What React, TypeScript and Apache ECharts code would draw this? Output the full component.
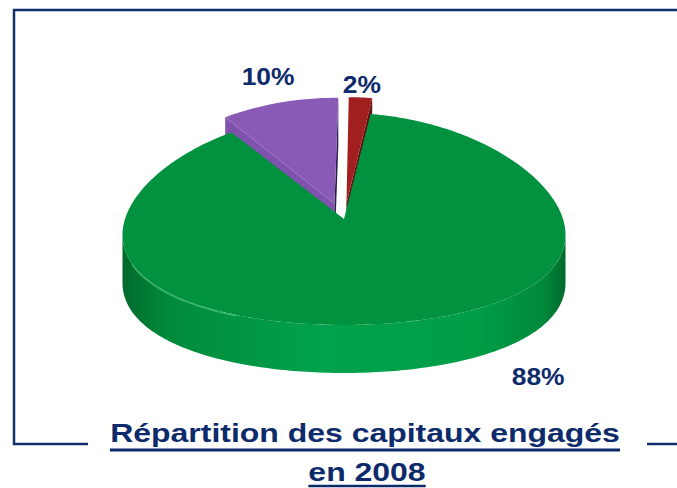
import React, { useEffect, useRef } from "react";
import * as echarts from "echarts";

// Slices listed clockwise starting just right of 12 o'clock
const sliceNames = ["Part rouge", "Part verte", "Part violette"];
const sliceValues = [2, 88, 10];
const sliceLabels = ["2%", "88%", "10%"];
const titleLines = ["Répartition des capitaux engagés", "en 2008"];

// styles
const topColors = ["#a11f1e", "#00923f", "#8a5bb6"];
const startCutColors = ["#5c1311", "#006b2c", "#7f52ad"];
const endCutColors = ["#5c1311", "#006b2c", "#2a1d4c"];
const explodes = [0.15, 0, 0.15];
const drawZ = [2, 10, 1];
const labelPlacement = [
  { angle: null as number | null, R: 1.12, z: 0 },
  { angle: 141 as number | null, R: 1.21, z: 1.2 },
  { angle: null as number | null, R: 1.26, z: 0 },
];
const START_ANGLE = 0.8;
const NAVY = "#0d2b6b";
const FONT = '"Liberation Sans", Arial, sans-serif';

const GEO = { cx: 344, cy: 219, rx: 219, ry: 106, h: 48, k: 0.15 };

function proj(u: number, v: number, z: number): number[] {
  const g = 1 / (1 + GEO.k * v);
  return [GEO.cx + GEO.rx * u * g, GEO.cy - GEO.ry * v + GEO.h * z];
}
const rad = (d: number) => (d * Math.PI) / 180;

function arc(a0: number, a1: number, ox: number, oy: number, z: number) {
  const pts: number[][] = [];
  const n = Math.max(2, Math.ceil(Math.abs(a1 - a0)));
  for (let i = 0; i <= n; i++) {
    const a = a0 + ((a1 - a0) * i) / n;
    pts.push(proj(Math.sin(rad(a)) + ox, Math.cos(rad(a)) + oy, z));
  }
  return pts;
}

function measure(text: string, font: string) {
  const c = document.createElement("canvas").getContext("2d");
  if (!c) return text.length * 15;
  c.font = font;
  return c.measureText(text).width;
}

export default function App() {
  const ref = useRef<HTMLDivElement>(null);
  useEffect(() => {
    if (!ref.current) return;
    const chart = echarts.init(ref.current, undefined, { renderer: "svg" });
    const total = sliceValues.reduce((s, v) => s + v, 0);
    const starts: number[] = [];
    let acc = START_ANGLE;
    sliceValues.forEach((v) => {
      starts.push(acc);
      acc += (v / total) * 360;
    });
    const delta = (Math.asin(GEO.k) * 180) / Math.PI;

    const renderItem = (params: any, api: any) => {
      const i = params.dataIndex;
      const val = api.value(0);
      const a0 = starts[i];
      const a1 = a0 + (val / total) * 360;
      const m = (a0 + a1) / 2;
      const e = explodes[i];
      const ox = e * Math.sin(rad(m));
      const oy = e * Math.cos(rad(m));
      const z2 = drawZ[i];
      const children: any[] = [];
      // outer side (front half)
      const ranges: number[][] = [];
      [[90 + delta, 270 - delta], [450 + delta, 630 - delta]].forEach(([s, t]) => {
        const lo = Math.max(s, a0);
        const hi = Math.min(t, a1);
        if (hi > lo) ranges.push([lo, hi]);
      });
      ranges.forEach(([lo, hi]) => {
        const top = arc(lo, hi, ox, oy, 0);
        const bot = arc(hi, lo, ox, oy, 1);
        children.push({
          type: "polygon",
          z2,
          shape: { points: top.concat(bot) },
          style: {
            fill: i === 1
              ? new echarts.graphic.LinearGradient(0, 0, 1, 0, [
                  { offset: 0, color: "#006a2b" },
                  { offset: 0.1, color: "#008a3b" },
                  { offset: 0.45, color: "#00a24b" },
                  { offset: 0.8, color: "#009d47" },
                  { offset: 0.95, color: "#00893b" },
                  { offset: 1, color: "#006a2b" },
                ])
              : endCutColors[i],
            stroke: null,
          },
        });
      });
      // cut faces
      const cut = (a: number, color: string) => {
        const c0 = proj(ox, oy, 0);
        const c1 = proj(ox, oy, 1);
        const r0 = proj(Math.sin(rad(a)) + ox, Math.cos(rad(a)) + oy, 0);
        const r1 = proj(Math.sin(rad(a)) + ox, Math.cos(rad(a)) + oy, 1);
        children.push({
          type: "polygon",
          z2,
          shape: { points: [c0, r0, r1, c1] },
          style: { fill: color, stroke: null },
        });
      };
      if (Math.sin(rad(a0)) < -0.001) cut(a0, startCutColors[i]);
      if (Math.sin(rad(a1)) > 0.001) cut(a1, endCutColors[i]);
      // top face
      const topPts = [proj(ox, oy, 0)].concat(arc(a0, a1, ox, oy, 0));
      children.push({
        type: "polygon",
        z2: z2 + 0.5,
        shape: { points: topPts },
        style: { fill: topColors[i], stroke: null },
      });
      if (i === 1) {
        children.push({
          type: "polyline",
          z2: z2 + 0.6,
          shape: { points: arc(205, 245, 0, 0, 0.02) },
          style: { stroke: "rgba(140,255,180,0.35)", lineWidth: 1.5, fill: null },
        });
      }
      // label
      const lp = labelPlacement[i];
      const la = lp.angle == null ? m : lp.angle;
      const lpt = proj(lp.R * Math.sin(rad(la)) + ox, lp.R * Math.cos(rad(la)) + oy, lp.z);
      children.push({
        type: "text",
        z2: 50,
        x: lpt[0],
        y: lpt[1],
        scaleX: 1.1,
        style: {
          text: sliceLabels[i],
          fill: NAVY,
          font: `bold 24px ${FONT}`,
          align: "center",
          verticalAlign: "middle",
          textAlign: "center",
          textVerticalAlign: "middle",
        },
      });
      return { type: "group", children };
    };

    const titleFont = `bold 26px ${FONT}`;
    const SX = 1.23;
    const t1w = measure(titleLines[0], titleFont) * SX;
    const t2w = measure(titleLines[1], titleFont) * SX;
    const t1x = 365;
    const t2x = 367;

    chart.setOption({
      animation: false,
      series: [
        {
          type: "custom",
          coordinateSystem: "none",
          renderItem,
          data: sliceValues.map((v, i) => ({ name: sliceNames[i], value: [v] })),
        },
      ],
      graphic: [
        {
          type: "polyline",
          shape: { points: [[88, 444], [14, 444], [14, 10], [677, 10]] },
          style: { stroke: "#112e6d", lineWidth: 2.5, fill: null },
        },
        {
          type: "line",
          shape: { x1: 647, y1: 444, x2: 677, y2: 444 },
          style: { stroke: "#112e6d", lineWidth: 2.5 },
        },
        {
          type: "text",
          x: t1x,
          y: 433.5,
          scaleX: SX,
          style: {
            text: titleLines[0],
            font: titleFont,
            fill: NAVY,
            textAlign: "center",
            textVerticalAlign: "middle",
          },
        },
        {
          type: "line",
          shape: { x1: t1x - t1w / 2, y1: 450, x2: t1x + t1w / 2, y2: 450 },
          style: { stroke: NAVY, lineWidth: 3 },
        },
        {
          type: "text",
          x: t2x,
          y: 472.5,
          scaleX: SX,
          style: {
            text: titleLines[1],
            font: titleFont,
            fill: NAVY,
            textAlign: "center",
            textVerticalAlign: "middle",
          },
        },
        {
          type: "line",
          shape: { x1: t2x - t2w / 2, y1: 486, x2: t2x + t2w / 2, y2: 486 },
          style: { stroke: NAVY, lineWidth: 2.5 },
        },
      ],
    });
    return () => chart.dispose();
  }, []);
  return (
    <div
      ref={ref}
      style={{ position: "fixed", left: 0, top: 0, width: 677, height: 488, background: "#fff" }}
    />
  );
}
